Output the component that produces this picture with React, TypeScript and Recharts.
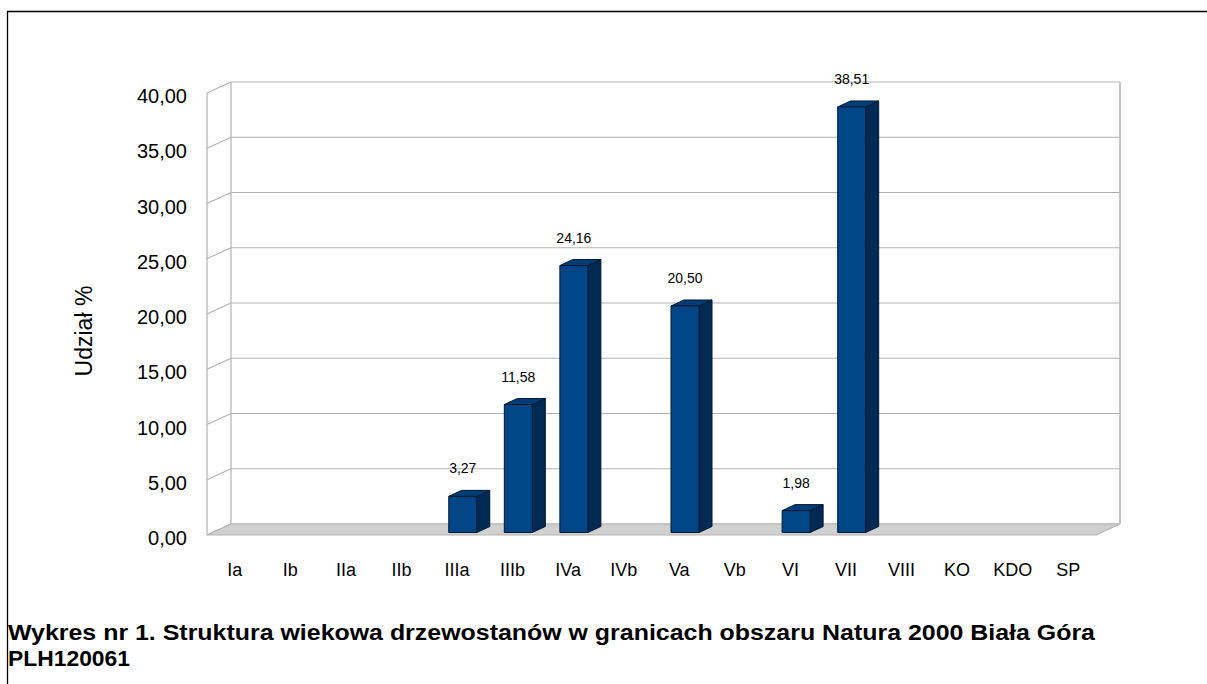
import React from 'react';
import { BarChart, Bar, XAxis, YAxis, CartesianGrid, ReferenceLine, LabelList } from 'recharts';

const categories = ['Ia', 'Ib', 'IIa', 'IIb', 'IIIa', 'IIIb', 'IVa', 'IVb', 'Va', 'Vb', 'VI', 'VII', 'VIII', 'KO', 'KDO', 'SP'];
const shares = [0, 0, 0, 0, 3.27, 11.58, 24.16, 0, 20.5, 0, 1.98, 38.51, 0, 0, 0, 0];
const yTicks = [0, 5, 10, 15, 20, 25, 30, 35, 40];

const titleLine1 = 'Wykres nr 1. Struktura wiekowa drzewostanów w granicach obszaru Natura 2000 Biała Góra';
const titleLine2 = 'PLH120061';
const yLabel = 'Udział %';

const data = categories.map((kat, i) => ({ kat, udzial: shares[i] }));

const FONT = '"Liberation Sans", Arial, sans-serif';
// perspective of the 3d box: back wall offset and bar depth
const DX = 24;
const DY = -11;
const BAR_DX = 13;
const BAR_DY = -6;
const BAR_SHIFT_X = 5.5;
const BAR_SHIFT_Y = -2.5;
const GRID = '#b3b3b3';

const fmt = (v: number) => v.toFixed(2).replace('.', ',');

function Bar3D(props: any) {
  const { x, y, width, height } = props;
  if (!height || height <= 0) return null;
  const fx = x + BAR_SHIFT_X;
  const fy = y + BAR_SHIFT_Y;
  const w = width;
  const h = height;
  return (
    <g stroke="#001a33" strokeWidth={1} strokeLinejoin="round">
      <polygon
        points={`${fx + w},${fy} ${fx + w + BAR_DX},${fy + BAR_DY} ${fx + w + BAR_DX},${fy + h + BAR_DY} ${fx + w},${fy + h}`}
        fill="#002a53"
      />
      <polygon
        points={`${fx},${fy} ${fx + BAR_DX},${fy + BAR_DY} ${fx + w + BAR_DX},${fy + BAR_DY} ${fx + w},${fy}`}
        fill="#003d77"
      />
      <rect x={fx} y={fy} width={w} height={h} fill="#004586" />
    </g>
  );
}

function ValueLabel(props: any) {
  const { x, y, width, value } = props;
  if (!value) return null;
  return (
    <text
      x={x + width / 2 + BAR_SHIFT_X}
      y={y + BAR_SHIFT_Y - 23}
      textAnchor="middle"
      fontSize={14}
      fontFamily={FONT}
      fill="#000"
    >
      {fmt(value)}
    </text>
  );
}

function YTick(props: any) {
  const { x, y, payload } = props;
  return (
    <text x={x} y={y} dy={10} textAnchor="end" fontSize={20} fontFamily={FONT} fill="#000">
      {fmt(payload.value)}
    </text>
  );
}

function XTick(props: any) {
  const { x, y, payload } = props;
  return (
    <text x={x} y={y} dy={13} textAnchor="middle" fontSize={18} fontFamily={FONT} fill="#000">
      {payload.value}
    </text>
  );
}

// horizontal grid: line on the back wall plus the slanted piece on the side wall
function gridLine(props: any) {
  const { x1, y1, x2, index } = props;
  return (
    <g key={`grid-${index}`} stroke={GRID} strokeWidth={1.2} fill="none">
      <line x1={x1 + DX} y1={y1 + DY} x2={x2 + DX} y2={y1 + DY} />
      <line x1={x1} y1={y1} x2={x1 + DX} y2={y1 + DY} />
    </g>
  );
}

function Floor(props: any) {
  const { x1, y1, x2 } = props;
  return (
    <polygon
      points={`${x1},${y1} ${x2},${y1} ${x2 + DX},${y1 + DY} ${x1 + DX},${y1 + DY}`}
      fill="#d0d0d0"
      stroke={GRID}
      strokeWidth={1.2}
    />
  );
}

function LeftEdges(props: any) {
  const { x1, y1, y2 } = props;
  return (
    <g stroke={GRID} strokeWidth={1.2}>
      <line x1={x1} y1={y1} x2={x1} y2={y2} />
      <line x1={x1 + DX} y1={y1 + DY} x2={x1 + DX} y2={y2 + DY} />
    </g>
  );
}

function RightEdge(props: any) {
  const { x1, y1, y2 } = props;
  return <line x1={x1 + DX} y1={y1 + DY} x2={x1 + DX} y2={y2 + DY} stroke={GRID} strokeWidth={1.5} />;
}

export default function App() {
  return (
    <div style={{ position: 'absolute', left: 0, top: 0, width: 1207, height: 684, background: '#fff', fontFamily: FONT }}>
      <BarChart
        width={1207}
        height={684}
        data={data}
        margin={{ top: 93, right: 111, bottom: 119, left: 147 }}
      >
        <CartesianGrid vertical={false} horizontal={gridLine} />
        <ReferenceLine y={0} shape={Floor} zIndex={-50} />
        <ReferenceLine x="Ia" position="start" shape={LeftEdges} zIndex={-50} />
        <ReferenceLine x="SP" position="end" shape={RightEdge} zIndex={-50} />
        <XAxis
          dataKey="kat"
          interval={0}
          axisLine={false}
          tickLine={false}
          tickSize={6}
          tickMargin={22}
          height={30}
          tick={<XTick />}
        />
        <YAxis
          domain={[0, 40]}
          ticks={yTicks}
          width={60}
          axisLine={false}
          tickLine={false}
          tickSize={6}
          tickMargin={14}
          tick={<YTick />}
        />
        <Bar dataKey="udzial" barSize={28} shape={Bar3D} isAnimationActive={false}>
          <LabelList dataKey="udzial" content={ValueLabel} />
        </Bar>
      </BarChart>
      <svg
        width={1207}
        height={684}
        style={{ position: 'absolute', left: 0, top: 0, pointerEvents: 'none' }}
      >
        <line x1={7} y1={11.5} x2={1207} y2={11.5} stroke="#000" strokeWidth={1.3} />
        <line x1={7.5} y1={11} x2={7.5} y2={684} stroke="#000" strokeWidth={1.3} />
        <text
          x={84}
          y={331}
          transform="rotate(-90, 84, 331)"
          textAnchor="middle"
          dy={8}
          fontSize={23}
          fontFamily={FONT}
          fill="#000"
        >
          {yLabel}
        </text>
        <text x={8} y={640} fontSize={22} fontWeight="bold" fontFamily={FONT} fill="#000" textLength={1087} lengthAdjust="spacingAndGlyphs">
          {titleLine1}
        </text>
        <text x={8} y={666} fontSize={22} fontWeight="bold" fontFamily={FONT} fill="#000" textLength={122} lengthAdjust="spacingAndGlyphs">
          {titleLine2}
        </text>
      </svg>
    </div>
  );
}
